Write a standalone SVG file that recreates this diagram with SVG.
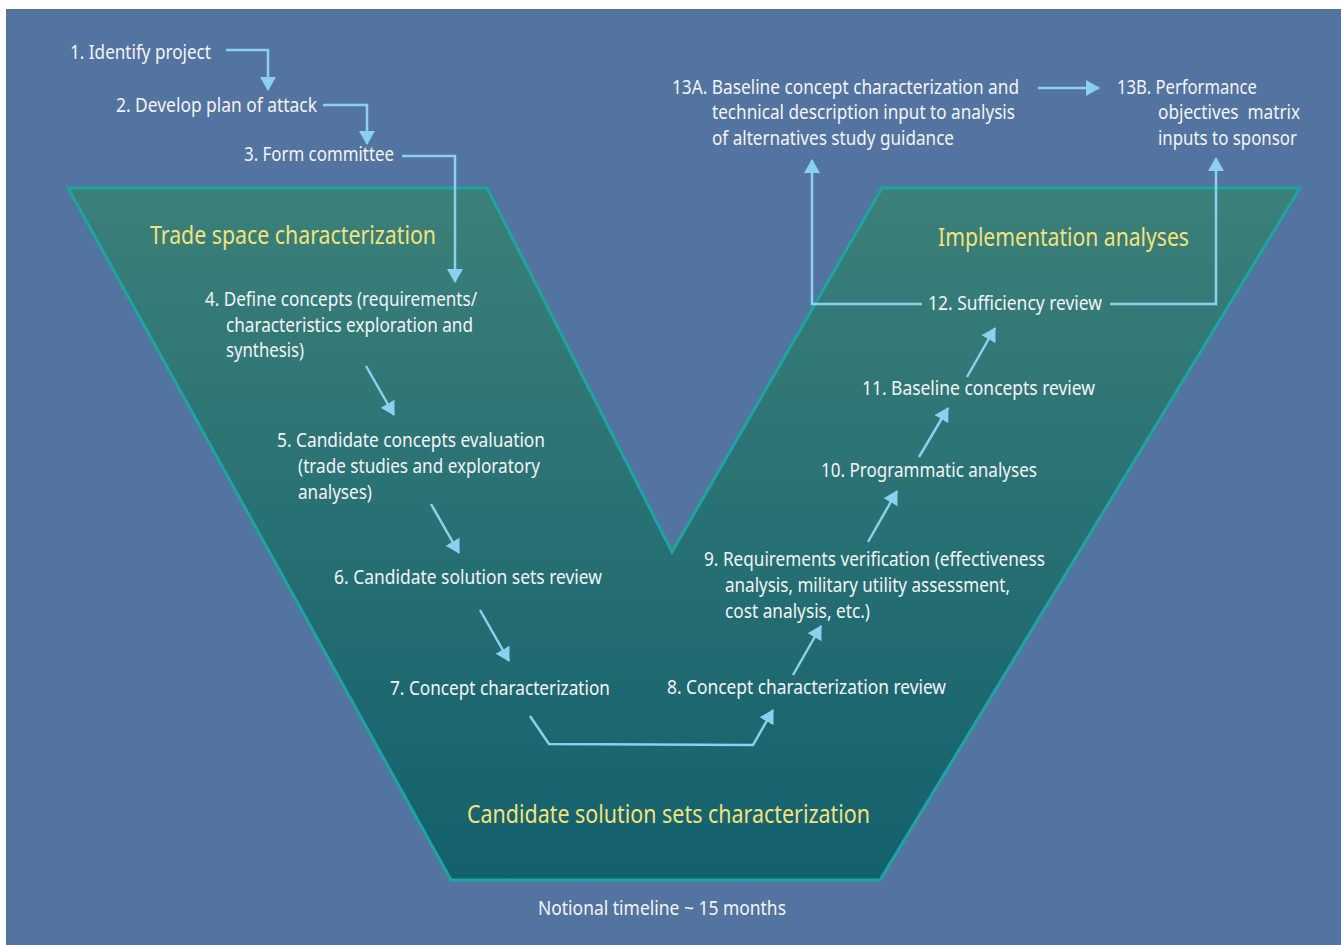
<svg xmlns="http://www.w3.org/2000/svg" width="1341" height="945" viewBox="0 0 1341 945">
  <style>
    .t { font-family: "Noto Sans", "Liberation Sans", sans-serif; font-size: 19px; fill: #f3f4f6; }
    .h { font-family: "Noto Sans", "Liberation Sans", sans-serif; font-size: 25px; fill: #f4e27c; }
    .c { fill: none; stroke: #8ad0f0; stroke-width: 2.5; stroke-linejoin: miter; }
  </style>
  <defs>
    <linearGradient id="vfill" x1="0" y1="188" x2="0" y2="880" gradientUnits="userSpaceOnUse">
      <stop offset="0" stop-color="#3b8079"/>
      <stop offset="1" stop-color="#13606d"/>
    </linearGradient>
    <marker id="ah" markerWidth="14" markerHeight="16" refX="13" refY="8" orient="auto" markerUnits="userSpaceOnUse">
      <path d="M0,0 L14,8 L0,16 Z" fill="#8ad0f0"/>
    </marker>
  </defs>

  <!-- page background -->
  <rect x="0" y="0" width="1341" height="945" fill="#ffffff"/>
  <rect x="6" y="9" width="1335" height="936" fill="#5373a0"/>

  <!-- V-shaped process band -->
  <g id="vband">
    <polygon points="68,188 487,188 672,552 882,188 1300,188 880,880 451,880" fill="url(#vfill)" stroke="#1ea59f" stroke-width="3" stroke-linejoin="miter"/>
  </g>

  <!-- phase titles -->
  <g id="phase-trade">
    <text class="h" x="150" y="244" textLength="286" lengthAdjust="spacingAndGlyphs">Trade space characterization</text>
  </g>
  <g id="phase-impl">
    <text class="h" x="938" y="246" textLength="251" lengthAdjust="spacingAndGlyphs">Implementation analyses</text>
  </g>
  <g id="phase-candidate">
    <text class="h" x="467" y="823" textLength="403" lengthAdjust="spacingAndGlyphs">Candidate solution sets characterization</text>
  </g>

  <!-- steps -->
  <g id="step1"><text class="t" x="70" y="59" textLength="141" lengthAdjust="spacingAndGlyphs">1. Identify project</text></g>
  <g id="step2"><text class="t" x="116" y="112" textLength="201" lengthAdjust="spacingAndGlyphs">2. Develop plan of attack</text></g>
  <g id="step3"><text class="t" x="244" y="161" textLength="150" lengthAdjust="spacingAndGlyphs">3. Form committee</text></g>
  <g id="step4">
    <text class="t" x="205" y="306" textLength="272" lengthAdjust="spacingAndGlyphs">4. Define concepts (requirements/</text>
    <text class="t" x="226" y="332" textLength="247" lengthAdjust="spacingAndGlyphs">characteristics exploration and</text>
    <text class="t" x="226" y="357" textLength="78" lengthAdjust="spacingAndGlyphs">synthesis)</text>
  </g>
  <g id="step5">
    <text class="t" x="277" y="447" textLength="268" lengthAdjust="spacingAndGlyphs">5. Candidate concepts evaluation</text>
    <text class="t" x="298" y="473" textLength="242" lengthAdjust="spacingAndGlyphs">(trade studies and exploratory</text>
    <text class="t" x="298" y="499" textLength="74" lengthAdjust="spacingAndGlyphs">analyses)</text>
  </g>
  <g id="step6"><text class="t" x="334" y="584" textLength="268" lengthAdjust="spacingAndGlyphs">6. Candidate solution sets review</text></g>
  <g id="step7"><text class="t" x="390" y="695" textLength="220" lengthAdjust="spacingAndGlyphs">7. Concept characterization</text></g>
  <g id="step8"><text class="t" x="667" y="694" textLength="279" lengthAdjust="spacingAndGlyphs">8. Concept characterization review</text></g>
  <g id="step9">
    <text class="t" x="704" y="566" textLength="341" lengthAdjust="spacingAndGlyphs">9. Requirements verification (effectiveness</text>
    <text class="t" x="725" y="592" textLength="285" lengthAdjust="spacingAndGlyphs">analysis, military utility assessment,</text>
    <text class="t" x="725" y="618" textLength="145" lengthAdjust="spacingAndGlyphs">cost analysis, etc.)</text>
  </g>
  <g id="step10"><text class="t" x="821" y="477" textLength="216" lengthAdjust="spacingAndGlyphs">10. Programmatic analyses</text></g>
  <g id="step11"><text class="t" x="862" y="395" textLength="233" lengthAdjust="spacingAndGlyphs">11. Baseline concepts review</text></g>
  <g id="step12"><text class="t" x="928" y="310" textLength="174" lengthAdjust="spacingAndGlyphs">12. Sufficiency review</text></g>
  <g id="step13a">
    <text class="t" x="672" y="94" textLength="347" lengthAdjust="spacingAndGlyphs">13A. Baseline concept characterization and</text>
    <text class="t" x="712" y="119" textLength="303" lengthAdjust="spacingAndGlyphs">technical description input to analysis</text>
    <text class="t" x="712" y="145" textLength="242" lengthAdjust="spacingAndGlyphs">of alternatives study guidance</text>
  </g>
  <g id="step13b">
    <text class="t" x="1117" y="94" textLength="140" lengthAdjust="spacingAndGlyphs">13B. Performance</text>
    <text class="t" x="1158" y="119" textLength="142" lengthAdjust="spacingAndGlyphs" xml:space="preserve">objectives  matrix</text>
    <text class="t" x="1158" y="145" textLength="139" lengthAdjust="spacingAndGlyphs">inputs to sponsor</text>
  </g>
  <g id="timeline"><text class="t" x="538" y="915" textLength="248" lengthAdjust="spacingAndGlyphs">Notional timeline ~ 15 months</text></g>

  <!-- connectors -->
  <g id="connectors">
    <polyline class="c" points="226,50 268,50 268,90" marker-end="url(#ah)"/>
    <polyline class="c" points="323,105 367,105 367,144" marker-end="url(#ah)"/>
    <polyline class="c" points="402,156 455,156 455,282" marker-end="url(#ah)"/>
    <line class="c" x1="366" y1="366" x2="394" y2="415" marker-end="url(#ah)"/>
    <line class="c" x1="431" y1="504" x2="459" y2="553" marker-end="url(#ah)"/>
    <line class="c" x1="480" y1="610" x2="509" y2="661" marker-end="url(#ah)"/>
    <polyline class="c" points="530,716 549,744 753,745 773,710" marker-end="url(#ah)"/>
    <line class="c" x1="793" y1="675" x2="821" y2="626" marker-end="url(#ah)"/>
    <line class="c" x1="868" y1="542" x2="897" y2="491" marker-end="url(#ah)"/>
    <line class="c" x1="919" y1="457" x2="948" y2="408" marker-end="url(#ah)"/>
    <line class="c" x1="967" y1="377" x2="995" y2="328" marker-end="url(#ah)"/>
    <polyline class="c" points="922,304 812,304 812,160" marker-end="url(#ah)"/>
    <polyline class="c" points="1110,304 1216,304 1216,158" marker-end="url(#ah)"/>
    <line class="c" x1="1038" y1="88" x2="1099" y2="88" marker-end="url(#ah)"/>
  </g>
</svg>
